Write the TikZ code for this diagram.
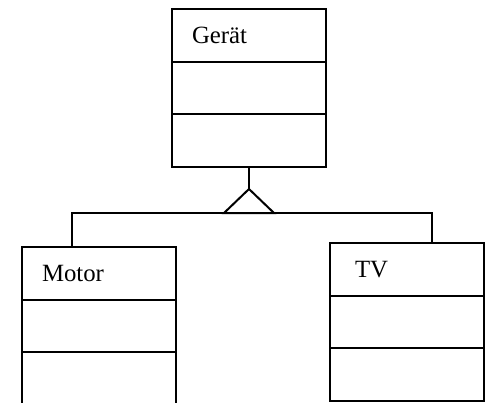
\documentclass[tikz,border=0pt]{standalone}
\usepackage{fontspec}
\setmainfont{Liberation Serif}
\usetikzlibrary{positioning}

\begin{document}
\begin{tikzpicture}[x=0.5pt, y=-0.5pt, line width=1pt, node distance=0pt,
    fach/.style={draw, outer sep=0pt, minimum width=77pt, minimum height=26.25pt,
        text width=57pt, inner xsep=10pt, inner ysep=0pt, align=left,
        font=\fontsize{12.4}{14}\selectfont}]
    \useasboundingbox (0,0) rectangle (485,402);
    \clip (0,0) rectangle (485,402);

    % Nodes {geraet, motor, tv}
    \node [fach]    (geraet)                            at (249,35.25)  {Gerät};
    \node [fach]    (geraet-attr)   [below=of geraet]                   {};
    \node [fach]    (geraet-ops)    [below=of geraet-attr]              {};
    \node [fach]    (motor)                             at (99,273.25)  {Motor};
    \node [fach]    (motor-attr)    [below=of motor]                    {};
    \node [fach]    (motor-ops)     [below=of motor-attr]               {};
    \node [fach]    (tv)                                at (407,269.25) {\hspace{2.5pt}TV};
    \node [fach]    (tv-attr)       [below=of tv]                       {};
    \node [fach]    (tv-ops)        [below=of tv-attr]                  {};

    % Coordinates {spitze, links, rechts}
    \coordinate (spitze) at (249,189);
    \coordinate (links)  at (72,213);
    \coordinate (rechts) at (432,213);

    % Paths
    \draw (geraet-ops.south) -- (spitze);
    \draw (links |- motor.north) -- (links) -- (rechts) -- (rechts |- tv.north);
    \draw [fill=white] (spitze) -- ++(-25,24) -- ++(50,0) -- cycle;

\end{tikzpicture}
\end{document}
